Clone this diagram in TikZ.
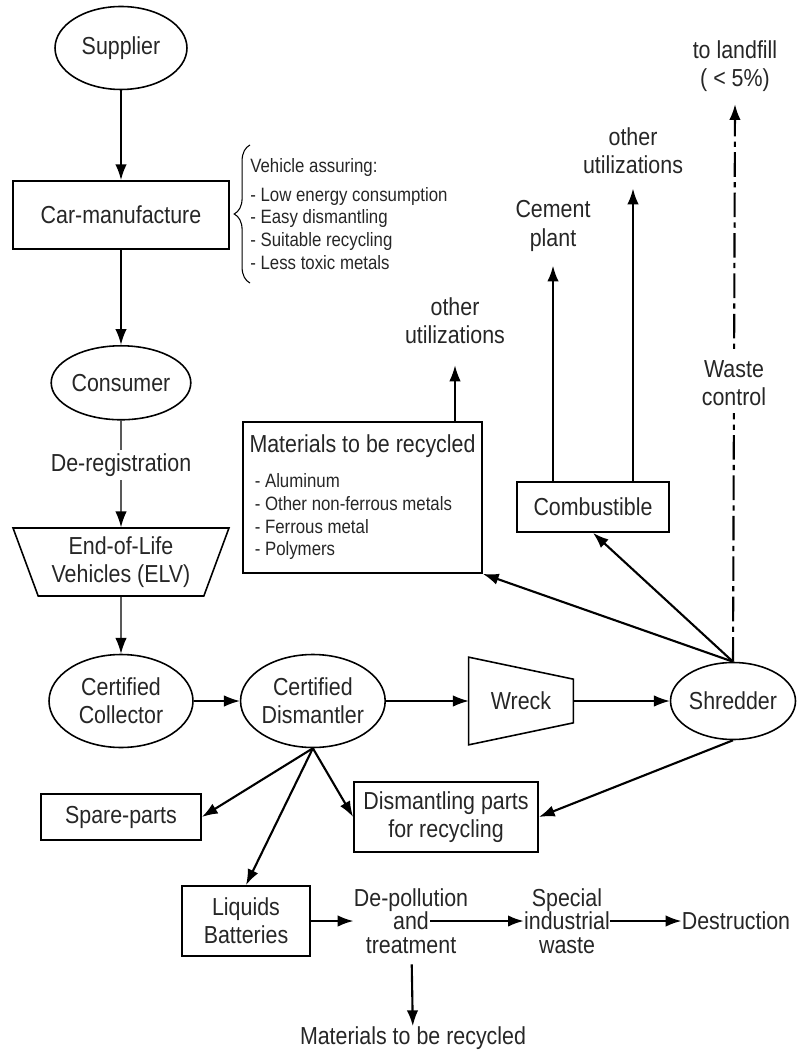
\documentclass[tikz,border=0pt]{standalone}
\usepackage{fontspec}
\setmainfont{Liberation Sans}[FakeStretch=0.87]
\usetikzlibrary{arrows.meta, positioning, calc, shapes.geometric, decorations.pathreplacing}
\newcommand{\mainsz}{\fontsize{14pt}{16pt}\selectfont}
\newcommand{\smallsz}{\fontsize{11pt}{12.9pt}\selectfont}
\newcommand{\tightsz}{\fontsize{14pt}{13.3pt}\selectfont}

\begin{document}
\begin{tikzpicture}[
    x=0.02cm, y=-0.02cm,
    >={Latex[length=9pt, width=6.5pt]},
    font=\mainsz, text=black!85,
    ell/.style={ellipse, draw=black, line width=0.9pt, inner sep=0pt, align=center},
    box/.style={rectangle, draw=black, line width=1pt, inner sep=2pt, align=center},
    lbl/.style={inner sep=0pt, align=center},
    arr/.style={->, line width=1.2pt},
    tarr/.style={->, line width=0.7pt},
]
    \useasboundingbox (0,0) rectangle (796,1053);

    % life cycle column
    \node[ell, minimum width=2.64cm, minimum height=1.66cm] (sup) at (121,48) {Supplier};
    \node[box, minimum width=4.32cm, minimum height=1.36cm, below=1.8cm of sup] (carm) {Car-manufacture};
    \node[ell, minimum width=2.64cm, minimum height=1.48cm, below=1.9cm of carm] (cons) {Consumer};
    \node[trapezium, trapezium angle=70, trapezium stretches=true, shape border rotate=180,
          draw=black, line width=0.9pt, align=center, minimum width=4.32cm, minimum height=1.36cm]
          (elv) at (121,562) {End-of-Life\\Vehicles (ELV)};
    \node[ell, minimum width=2.88cm, minimum height=1.86cm] (coll) at (121,701) {Certified\\Collector};
    \node[ell, minimum width=2.88cm, minimum height=1.86cm, right=0.92cm of coll] (dism) {Certified\\Dismantler};
    \node[inner sep=0pt, minimum width=2.08cm, minimum height=1.74cm] (wreck) at (521,701) {Wreck};
    \draw[line width=0.9pt] (wreck.north west) -- ($(wreck.north east)+(0,22)$)
        -- ($(wreck.south east)+(0,-22)$) -- (wreck.south west) -- cycle;
    \node[ell, minimum width=2.5cm, minimum height=1.54cm] (shred) at (733,701) {Shredder};

    % design requirements
    \node[lbl, font=\smallsz, align=left, anchor=west, inner ysep=7.5pt] (assure) at (250,214)
        {Vehicle assuring:\\[3.5pt]- Low energy consumption\\- Easy dismantling\\- Suitable recycling\\- Less toxic metals};
    \draw[line width=0.6pt, decorate, decoration={brace, amplitude=9pt}] (assure.south west) -- (assure.north west);

    % shredder outputs
    \node[box, font=\smallsz, align=left, inner sep=0pt, minimum width=4.78cm, minimum height=3.02cm] (mat) at (362.5,497.5)
        {{\mainsz Materials to be recycled}\\[7pt]\hspace*{3pt}- Aluminum\\\hspace*{3pt}- Other non-ferrous metals\\\hspace*{3pt}- Ferrous metal\\\hspace*{3pt}- Polymers};
    \node[box, minimum width=3.04cm, minimum height=1cm] (comb) at (593,507) {Combustible};
    \node[lbl] (oth1) at (455,321) {other\\utilizations};
    \node[lbl] (cem) at (553,226) {Cement\\plant};
    \node[lbl] (oth2) at (633,151) {other\\utilizations};
    \node[lbl] (land) at (735,66) {to landfill\\( < 5\%)};

    % dismantler outputs
    \node[box, minimum width=3.2cm, minimum height=0.92cm] (spare) at (121,817) {Spare-parts};
    \node[box, minimum width=3.68cm, minimum height=1.4cm] (dpart) at (446,817) {Dismantling parts\\for recycling};
    \node[box, minimum width=2.56cm, minimum height=1.4cm] (liq) at (246,921) {Liquids\\Batteries};
    \node[lbl, font=\tightsz] (depol) at (411,921) {De-pollution\\and\\treatment};
    \node[lbl, font=\tightsz] (spec) at (567,921) {Special\\industrial\\waste};
    \node[lbl] (destr) at (736,921) {Destruction};
    \node[lbl] (matrec) at (413,1038) {Materials to be recycled};

    % connectors
    \draw[arr] (sup) -- (carm);
    \draw[arr] (carm) -- (cons);
    \draw[tarr] (cons) -- node[pos=0.42, fill=white, inner sep=2pt] (dereg) {De-registration} (elv);
    \draw[tarr] (elv) -- (coll);
    \draw[tarr] (coll) -- (dism);
    \draw[tarr] (dism) -- (wreck);
    \draw[tarr] (wreck) -- (shred);

    \draw[arr] (dism.south) -- (spare.east);
    \draw[arr] (dism.south) -- (dpart.west);
    \draw[arr] (dism.south) -- (liq.north);
    \draw[arr] (shred.south) -- (dpart.east);
    \draw[arr] (shred.north) -- (mat.south east);
    \draw[arr] (shred.north) -- (comb.south);
    \draw[arr, dash pattern=on 14pt off 3pt on 3pt off 3pt] (shred.north)
        -- node[fill=white, align=center, inner xsep=1pt, inner ysep=4pt] (waste) {Waste\\control} ([yshift=-7pt]land.south);
    \draw[tarr] (oth1 |- mat.north) -- ([yshift=-12pt]oth1.south);
    \draw[arr] (cem |- comb.north) -- ([yshift=-8pt]cem.south);
    \draw[arr] (oth2 |- comb.north) -- ([yshift=-8pt]oth2.south);

    \draw[arr] (liq) -- (depol);
    \draw[arr] ([xshift=11pt]depol.center) -- (spec);
    \draw[arr] (spec) -- (destr);
    \draw[arr, shorten <=6pt] (depol) -- (matrec);
\end{tikzpicture}
\end{document}
